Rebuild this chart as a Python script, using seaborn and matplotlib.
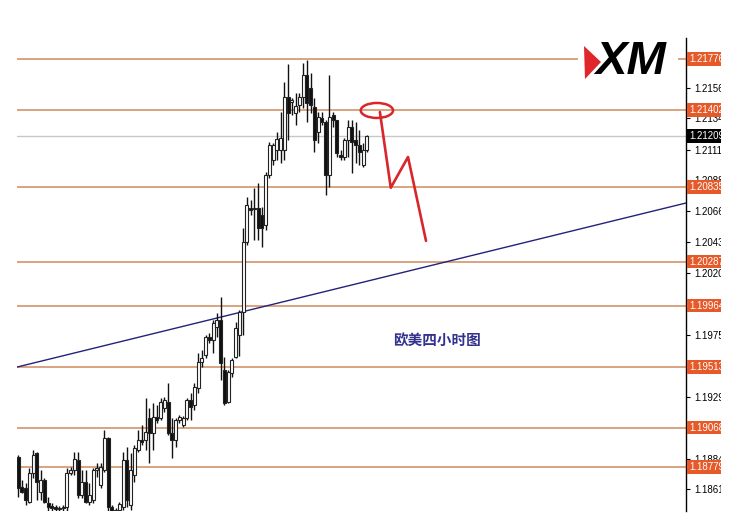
import matplotlib
matplotlib.use("Agg")
import matplotlib.pyplot as plt
import seaborn as sns
import numpy as np
import pandas as pd
from matplotlib.patches import Ellipse, Rectangle, Polygon
import matplotlib.transforms as mtransforms

# ---------------- data (EUR/USD H4 candles) ----------------
opens = [1.18852, 1.18632, 1.18625, 1.18522, 1.18735, 1.18882, 1.18595, 1.18683, 1.18514, 1.18492,
         1.18485, 1.18478, 1.18478, 1.18485, 1.18735, 1.18757, 1.18830, 1.18573, 1.18669, 1.18522,
         1.18536, 1.18757, 1.18647, 1.18757, 1.18992, 1.18485, 1.18448, 1.18463, 1.18485, 1.18830,
         1.18500, 1.18720, 1.18904, 1.18977, 1.18977, 1.19139, 1.19029, 1.19146, 1.19139, 1.19212,
         1.19256, 1.19029, 1.18977, 1.19124, 1.19087, 1.19139, 1.19271, 1.19234, 1.19359, 1.19550,
         1.19602, 1.19734, 1.19712, 1.19807, 1.19859, 1.19491, 1.19256, 1.19469, 1.19587, 1.19749,
         1.19917, 1.20432, 1.20681, 1.20681, 1.20681, 1.20630, 1.20557, 1.20924, 1.21034, 1.21108,
         1.21108, 1.21108, 1.21497, 1.21460, 1.21379, 1.21438, 1.21497, 1.21658, 1.21563, 1.21424,
         1.21240, 1.21343, 1.21313, 1.20924, 1.21365, 1.21328, 1.21071, 1.21056, 1.21181, 1.21276,
         1.21181, 1.21144, 1.20997, 1.21108]
highs = [1.18867, 1.18683, 1.18661, 1.18772, 1.18904, 1.18889, 1.18757, 1.18698, 1.18558, 1.18514,
         1.18500, 1.18492, 1.18500, 1.18772, 1.18779, 1.18889, 1.18889, 1.18757, 1.18757, 1.18661,
         1.18772, 1.18808, 1.18808, 1.19051, 1.18999, 1.18500, 1.18478, 1.18522, 1.18889, 1.18926,
         1.18882, 1.18940, 1.19051, 1.19087, 1.19286, 1.19212, 1.19249, 1.19234, 1.19286, 1.19293,
         1.19396, 1.19139, 1.19139, 1.19161, 1.19154, 1.19286, 1.19322, 1.19396, 1.19616, 1.19638,
         1.19749, 1.19763, 1.19859, 1.19910, 1.20028, 1.19587, 1.19491, 1.19580, 1.19844, 1.19932,
         1.20535, 1.20762, 1.20740, 1.20828, 1.20865, 1.20689, 1.20946, 1.21166, 1.21159, 1.21240,
         1.21387, 1.21607, 1.21739, 1.21489, 1.21526, 1.21526, 1.21747, 1.21769, 1.21673, 1.21489,
         1.21387, 1.21387, 1.21328, 1.21658, 1.21387, 1.21328, 1.21108, 1.21196, 1.21328, 1.21328,
         1.21313, 1.21254, 1.21159, 1.21218]
lows = [1.18558, 1.18588, 1.18500, 1.18514, 1.18698, 1.18536, 1.18536, 1.18514, 1.18448, 1.18448,
        1.18448, 1.18448, 1.18448, 1.18448, 1.18720, 1.18720, 1.18551, 1.18551, 1.18514, 1.18500,
        1.18514, 1.18705, 1.18625, 1.18742, 1.18448, 1.18390, 1.18390, 1.18448, 1.18463, 1.18485,
        1.18463, 1.18669, 1.18889, 1.18940, 1.18904, 1.18808, 1.18904, 1.19102, 1.19124, 1.19183,
        1.19014, 1.18845, 1.18926, 1.19102, 1.19073, 1.19124, 1.19124, 1.19198, 1.19322, 1.19513,
        1.19580, 1.19690, 1.19616, 1.19734, 1.19418, 1.19234, 1.19249, 1.19440, 1.19580, 1.19594,
        1.19749, 1.20410, 1.20630, 1.20446, 1.20446, 1.20395, 1.20520, 1.20902, 1.20997, 1.21034,
        1.21012, 1.21034, 1.21181, 1.21365, 1.21291, 1.21387, 1.21416, 1.21313, 1.21379, 1.21093,
        1.21159, 1.21291, 1.20777, 1.20836, 1.21276, 1.21056, 1.21034, 1.21034, 1.21056, 1.20939,
        1.21012, 1.20997, 1.20983, 1.21093]
closes = [1.18625, 1.18595, 1.18536, 1.18735, 1.18867, 1.18669, 1.18683, 1.18522, 1.18485, 1.18478,
          1.18470, 1.18470, 1.18485, 1.18735, 1.18757, 1.18838, 1.18573, 1.18669, 1.18522, 1.18573,
          1.18757, 1.18772, 1.18779, 1.18992, 1.18485, 1.18448, 1.18463, 1.18507, 1.18830, 1.18536,
          1.18757, 1.18918, 1.18977, 1.18963, 1.19036, 1.19029, 1.19146, 1.19124, 1.19256, 1.19271,
          1.19029, 1.18977, 1.19124, 1.19146, 1.19139, 1.19271, 1.19220, 1.19367, 1.19550, 1.19580,
          1.19734, 1.19712, 1.19837, 1.19859, 1.19543, 1.19249, 1.19477, 1.19565, 1.19800, 1.19917,
          1.20432, 1.20704, 1.20667, 1.20674, 1.20535, 1.20535, 1.20924, 1.21144, 1.21144, 1.21188,
          1.21196, 1.21497, 1.21379, 1.21475, 1.21431, 1.21497, 1.21658, 1.21453, 1.21438, 1.21181,
          1.21350, 1.21313, 1.20924, 1.21350, 1.21328, 1.21086, 1.21056, 1.21181, 1.21276, 1.21166,
          1.21144, 1.21093, 1.21108, 1.21209]

level_prices = [1.21776, 1.21402, 1.20835, 1.20287, 1.19964, 1.19513, 1.19068, 1.18779]
level_labels = ["1.21776", "1.21402", "1.20835", "1.20287", "1.19964", "1.19513", "1.19068", "1.18779"]
tick_prices = [1.21565, 1.21340, 1.21110, 1.20888, 1.20660, 1.20430, 1.20205, 1.19750,
               1.19295, 1.18840, 1.18615]
tick_labels = ["1.21565", "1.21340", "1.21110", "1.20888", "1.20660", "1.20430", "1.20205",
               "1.19750", "1.19295", "1.18840", "1.18615"]
current_price = 1.21209
current_label = "1.21209"

trend_x = [-0.27, 178.1]
trend_y = [1.19513, 1.20718]
zigzag_x = [96.5, 99.4, 104.0, 108.8]
zigzag_y = [1.21387, 1.20830, 1.21056, 1.20440]
chart_title = "欧美四小时图"
logo_text = "XM"

# ---------------- figure ----------------
sns.set_theme(style="white")
plt.rcParams['font.family'] = ['Liberation Sans', 'DejaVu Sans']

W, H = 737, 520
fig = plt.figure(figsize=(W / 100, H / 100), dpi=100)
fig.patch.set_facecolor("white")
ax_l, ax_r, ax_t, ax_b = 17, 686, 38, 511
ax = fig.add_axes([ax_l / W, 1 - ax_b / H, (ax_r - ax_l) / W, (ax_b - ax_t) / H])
ax.set_facecolor("white")

df = pd.DataFrame({"open": opens, "high": highs, "low": lows, "close": closes})
df["idx"] = np.arange(len(df))
df["bull"] = df["close"] >= df["open"]

level_color = "#d08a5c"
for p in level_prices:
    ax.axhline(p, color=level_color, lw=1.1, zorder=1)
ax.axhline(current_price, color="#c8c8c8", lw=1.0, zorder=1)

# trend line
trend_df = pd.DataFrame({"x": trend_x, "y": trend_y})
sns.lineplot(data=trend_df, x="x", y="y", ax=ax, color="#23237a", lw=1.0, zorder=2)

# candles
ax.vlines(df["idx"], df["low"], df["high"], color="#111111", lw=1.0, zorder=3)
body_h = (df["close"] - df["open"]).abs().clip(lower=0.00002)
body_b = df[["open", "close"]].min(axis=1)
ax.bar(df["idx"], body_h, bottom=body_b, width=0.8,
       color=np.where(df["bull"], "white", "#111111"), edgecolor="#222222", linewidth=0.8, zorder=4)

# red zig-zag projection and ellipse
zz_df = pd.DataFrame({"x": zigzag_x, "y": zigzag_y})
sns.lineplot(data=zz_df, x="x", y="y", ax=ax, color="#d8262b", lw=1.9, sort=False, zorder=5)
ax.add_patch(Ellipse((95.7, 1.21398), 8.6, 0.00110, fill=False, edgecolor="#d8262b", lw=1.8, zorder=5))

ax.text(100.0, 1.19712, chart_title, fontsize=10.5, color="#33338f", ha="left", va="center",
        fontweight="bold", family=["Noto Sans CJK SC", "DejaVu Sans"], zorder=6)

ax.set_xlim(-0.27, 178.13)
ax.set_ylim(1.184556, 1.219303)
ax.set_xlabel("")
ax.set_ylabel("")
ax.set_xticks([])
for s in ["left", "top", "bottom"]:
    ax.spines[s].set_visible(False)
ax.spines["right"].set_color("black")
ax.spines["right"].set_linewidth(1.0)
ax.yaxis.tick_right()
ax.set_yticks(tick_prices)
ax.set_yticklabels(tick_labels)
ax.tick_params(axis="y", which="both", right=True, left=False, length=3, width=0.8,
               pad=3, labelsize=7, colors="black", direction="out")

# level labels boxes
trans = mtransforms.blended_transform_factory(ax.transAxes, ax.transData)
xbox = (689 - ax_l) / (ax_r - ax_l)
for p, lab in zip(level_prices, level_labels):
    ax.text(xbox, p, lab, transform=trans, fontsize=7, color="white", ha="left", va="center",
            clip_on=False, zorder=8,
            bbox=dict(boxstyle="square,pad=0.18", facecolor="#e65a2a", edgecolor="none"))
ax.text(xbox, current_price, current_label, transform=trans, fontsize=7, color="white",
        ha="left", va="center", clip_on=False, zorder=8,
        bbox=dict(boxstyle="square,pad=0.18", facecolor="black", edgecolor="none"))

# XM logo
fig.patches.append(Rectangle((578 / W, 1 - 84 / H), 100 / W, 44 / H, transform=fig.transFigure,
                             facecolor="white", edgecolor="none", zorder=20))
fig.patches.append(Polygon([(584 / W, 1 - 46 / H), (601 / W, 1 - 62 / H), (585 / W, 1 - 79 / H)],
                           closed=True, transform=fig.transFigure, facecolor="#e0262b",
                           edgecolor="none", zorder=21))
fig.text(595 / W, 1 - 62 / H, logo_text, fontsize=34, fontweight="bold", style="italic",
         color="black", ha="left", va="center", zorder=22)

# cropped screenshot edge
fig.patches.append(Rectangle((721 / W, 0), 16 / W, 1, transform=fig.transFigure,
                             facecolor="white", edgecolor="none", zorder=30))

fig.savefig("out.png", dpi=100, facecolor="white")
